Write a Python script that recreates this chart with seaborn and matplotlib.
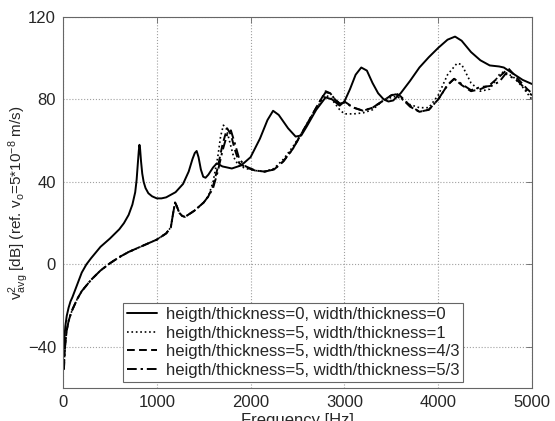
import numpy as np
import pandas as pd
import seaborn as sns
import matplotlib.pyplot as plt

# Frequency response readings (Hz, dB)
freq_plain = [10, 15, 25, 40, 60, 80, 100, 150, 200, 250, 300, 400, 500, 600, 650, 700, 740,
              770, 785, 798, 808, 815, 822, 832, 845, 860, 880, 910, 950, 1000, 1050, 1100,
              1200, 1280, 1340, 1380, 1405, 1425, 1445, 1470, 1495, 1520, 1550, 1600, 1640,
              1700, 1800, 1900, 2000, 2100, 2180, 2240, 2300, 2400, 2480, 2540, 2600, 2700,
              2800, 2870, 2950, 3000, 3060, 3120, 3180, 3240, 3300, 3360, 3420, 3470, 3520,
              3600, 3700, 3800, 3900, 4000, 4100, 4180, 4250, 4350, 4450, 4550, 4650, 4700,
              4800, 4900, 5000]
level_plain = [-40, -36, -30, -25, -21, -18, -16, -10, -4, 0, 3, 8.5, 12.5, 17, 20, 24, 29,
               35, 41, 49, 55, 58, 56, 50, 44, 40, 37, 34.5, 33, 32, 32, 32.5,
               35, 39, 45, 51, 54, 55, 52, 46, 42.5, 42, 43.5, 47, 49,
               47.5, 46.5, 48, 52, 61, 70, 74.5, 72.5, 66, 62, 62.5, 67, 75,
               81, 80, 77, 79, 85, 92, 95.5, 94, 88, 83, 80, 79, 79.5,
               83, 89, 95.5, 100.5, 105, 109, 110.5, 108.5, 103, 99, 96.5, 96, 95.5,
               92.5, 89.5, 87.5]

# low-frequency part shared by the three stiffened cases
freq_low = [10, 15, 25, 40, 60, 80, 100, 150, 200, 300, 400, 500, 600, 700, 800, 900, 1000,
            1100, 1150, 1175, 1195, 1215, 1240, 1270, 1300, 1350, 1400, 1450, 1500, 1550]
level_low = [-51, -45, -38, -32, -27.5, -24.5, -22, -17, -13, -7.5, -3, 0.5, 3.5, 6, 8, 10, 12,
             15, 18, 25, 30, 28, 25, 23.5, 23, 24.5, 26, 28, 30, 33]

freq_w1 = [1600, 1650, 1680, 1710, 1740, 1780, 1820, 1870, 1950, 2050, 2150, 2250, 2350, 2450,
           2550, 2650, 2750, 2800, 2850, 2900, 2950, 3000, 3100, 3200, 3300, 3400, 3500, 3550,
           3600, 3650, 3700, 3800, 3900, 4000, 4100, 4200, 4250, 4350, 4450, 4550, 4650, 4700,
           4800, 4900, 5000]
level_w1 = [40, 52, 62, 67.5, 66, 59, 52, 48, 46.5, 45.5, 45, 46.5, 51, 57,
            64, 72, 79, 82, 81, 78, 75, 73, 73, 73.5, 75, 79, 81, 81.5,
            80.5, 79, 77.5, 76, 76, 82, 92, 97.5, 97, 88, 84, 85, 92, 93.5,
            91, 86, 80]

freq_w43 = [1600, 1650, 1700, 1750, 1790, 1830, 1880, 1950, 2050, 2150, 2250, 2350, 2450, 2550,
            2650, 2750, 2800, 2850, 2900, 2950, 3000, 3100, 3200, 3300, 3400, 3500, 3550, 3600,
            3700, 3800, 3900, 4000, 4100, 4170, 4250, 4350, 4450, 4550, 4650, 4750, 4850, 4950,
            5000]
level_w43 = [38, 47, 58, 66, 63, 56, 49, 47, 45.5, 45, 46, 50, 56, 64,
             72, 80, 84, 83, 80, 78, 79, 76, 74.5, 76, 79, 82, 83, 81.5,
             77, 74, 75, 80, 87, 90, 87, 84, 85, 87, 91, 95, 90, 85,
             83]

freq_w53 = [1600, 1650, 1700, 1750, 1790, 1830, 1880, 1950, 2050, 2150, 2250, 2350, 2450, 2550,
            2650, 2750, 2800, 2850, 2900, 2950, 3000, 3100, 3200, 3300, 3400, 3500, 3550, 3600,
            3700, 3800, 3900, 4000, 4100, 4170, 4250, 4350, 4450, 4550, 4650, 4720, 4850, 4950,
            5000]
level_w53 = [37, 45, 55, 63, 65, 59, 51, 47.5, 45.5, 45, 46, 50, 56, 64,
             72, 80, 83.5, 83, 80, 78, 78.5, 76, 74.5, 76, 79, 82, 82.5, 81,
             76.5, 74, 75, 80, 87, 90, 87.5, 84.5, 86, 86.5, 88.5, 92.5, 89, 84,
             82]

labels = ["heigth/thickness=0, width/thickness=0",
          "heigth/thickness=5, width/thickness=1",
          "heigth/thickness=5, width/thickness=4/3",
          "heigth/thickness=5, width/thickness=5/3"]

sns.set_style("white")
plt.rcParams["font.family"] = ["Liberation Sans", "DejaVu Sans"]
plt.rcParams["mathtext.fontset"] = "custom"
plt.rcParams["mathtext.rm"] = "Liberation Sans"
plt.rcParams["mathtext.it"] = "Liberation Sans"

fig = plt.figure(figsize=(5.55, 4.21), dpi=100)
ax = fig.add_axes([0.1135, 0.0784, 0.845, 0.8812])

series = [
    (freq_plain, level_plain, "-", 1.4),
    (freq_low + freq_w1, level_low + level_w1, ":", 1.2),
    (freq_low + freq_w43, level_low + level_w43, (0, (4, 2.2)), 1.4),
    (freq_low + freq_w53, level_low + level_w53, (0, (5, 2, 1.2, 2)), 1.4),
]
for (f, v, ls, lw), lab in zip(series, labels):
    df = pd.DataFrame({"Frequency": f, "Level": v})
    sns.lineplot(data=df, x="Frequency", y="Level", ax=ax, color="black",
                 linestyle=ls, linewidth=lw, label=lab)

ax.set_xlim(0, 5000)
ax.set_ylim(-60, 120)
ax.set_xticks([0, 1000, 2000, 3000, 4000, 5000])
ax.set_yticks([-40, 0, 40, 80, 120])
ax.grid(True, linestyle=":", color="#a0a0a0", linewidth=0.8)
ax.tick_params(direction="in", top=True, right=True, length=4, width=0.6,
               labelsize=12, color="#666666", pad=5)
for sp in ax.spines.values():
    sp.set_color("#666666")
    sp.set_linewidth(0.8)

ax.set_xlabel("Frequency [Hz]", fontsize=12, labelpad=2)
ax.set_ylabel(r"v$^2_{avg}$ [dB] (ref. v$_o$=5*10$^{-8}$ m/s)", fontsize=11)
ax.yaxis.set_label_coords(-0.068, 0.5)

leg = ax.legend(loc="lower left", bbox_to_anchor=(0.128, 0.016), borderaxespad=0,
                fontsize=12, fancybox=False, framealpha=1, edgecolor="#666666",
                handlelength=1.8, labelspacing=0.22, borderpad=0.25, handletextpad=0.5)
leg.get_frame().set_linewidth(0.8)

fig.savefig("out.png", dpi=100)
